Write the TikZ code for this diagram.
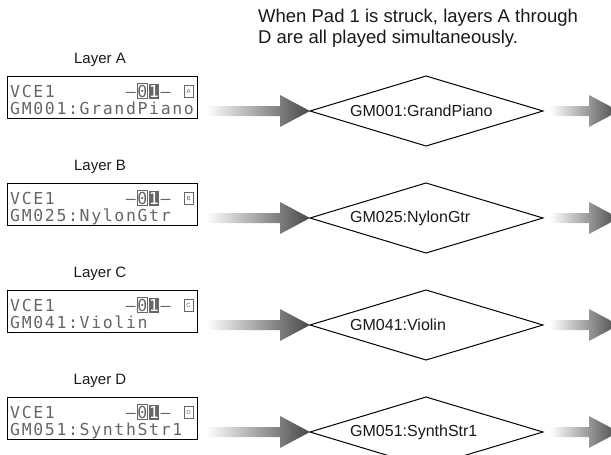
\documentclass[tikz,border=0pt]{standalone}
\usepackage{fontspec}
\setmainfont{Liberation Sans}
\newfontfamily\lcdfont[LetterSpace=10]{DejaVu Sans Mono}
\usetikzlibrary{calc}
\newcommand\gradarrow[2]{%
  \shade[arrowshade] ($(#1)+(0,-5)$) -- ($(#2)+(-30,-5)$) -- ($(#2)+(-30,-16)$) -- (#2)
    -- ($(#2)+(-30,16)$) -- ($(#2)+(-30,5)$) -- ($(#1)+(0,5)$) -- cycle;}
\begin{document}
\begin{tikzpicture}[x=1pt,y=-1pt,
  lcdbox/.style={draw, line width=1.1pt, minimum width=190pt, minimum height=42pt, inner sep=0, anchor=north west},
  lcdtxt/.style={inner sep=0, anchor=base west, text=black!60, font=\lcdfont\fontsize{16.5}{16.5}\selectfont},
  layerlbl/.style={font=\fontsize{15}{15}\selectfont, inner sep=0, text=black!90},
  dialbl/.style={font=\fontsize{16}{16}\selectfont, inner sep=0, anchor=west, text=black!90},
  diam/.style={draw, line width=1pt},
  arrowshade/.style={left color=white, right color=black!72},
  lcdmark/.style={black!60, line width=0.8pt}]
\useasboundingbox (0,0) rectangle (611,455);
\clip (0,0) rectangle (611,455);
\node[anchor=north west, align=left, font=\fontsize{18.5}{21}\selectfont, inner sep=0, text=black!90] (cap) at (258,9)
  {When Pad 1 is struck, layers A through\\D are all played simultaneously.};
\foreach \r/\L/\gm in {111/A/GM001:GrandPiano, 218/B/GM025:NylonGtr, 325/C/GM041:Violin, 432/D/GM051:SynthStr1}{
  \node[layerlbl] (lbl\L) at (100,\r-51) {Layer \L};
  \node[lcdbox] (lcd\L) at (7,\r-35) {};
  \node[lcdtxt] (v\L) at (10,\r-14) {VCE1};
  \node[lcdtxt] (da\L) at (125.6,\r-14) {–};
  \draw[lcdmark] (137.2,\r-27.5) rectangle (147,\r-12.5);
  \node[lcdtxt] (z\L) at (137.2,\r-14) {0};
  \fill[black!60] (148.7,\r-27.5) rectangle (158.5,\r-12.5);
  \node[lcdtxt, text=white] (o\L) at (148.7,\r-14) {1};
  \node[lcdtxt] (db\L) at (160.3,\r-14) {–};
  \draw[lcdmark, line width=0.6pt] (184,\r-26) rectangle (193,\r-14);
  \node[font=\fontsize{6}{6}\selectfont, text=black!60, inner sep=0] (ic\L) at (188.5,\r-20) {\L};
  \node[lcdtxt] (g\L) at (10,\r+3.5) {\gm};
  \coordinate (dl\L) at (310,\r);
  \coordinate (dt\L) at (426,\r-35);
  \coordinate (dr\L) at (543,\r);
  \coordinate (dbm\L) at (426,\r+35);
  \draw[diam] (dl\L) -- (dt\L) -- (dr\L) -- (dbm\L) -- cycle;
  \node[dialbl] (dx\L) at (350,\r) {\gm};
  \coordinate (as\L) at ($(lcd\L.east |- dl\L)+(8,0)$);
  \gradarrow{as\L}{dl\L}
  \coordinate (bs\L) at ($(dr\L)+(7,0)$);
  \coordinate (bt\L) at (619,\r);
  \gradarrow{bs\L}{bt\L}
}
\end{tikzpicture}
\end{document}
